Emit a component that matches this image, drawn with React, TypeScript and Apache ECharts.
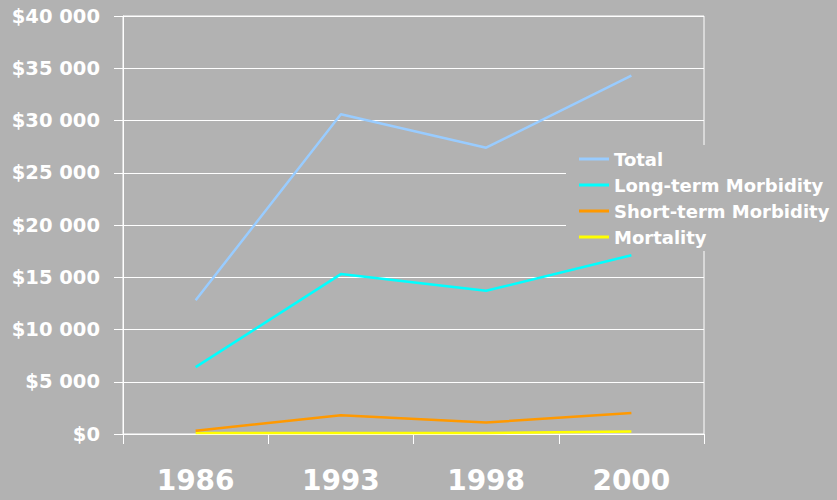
import React, { useEffect, useRef } from "react";
import * as echarts from "echarts";

const categories = ["1986", "1993", "1998", "2000"];
const totalValues = [12800, 30600, 27400, 34300];
const longTermValues = [6400, 15300, 13700, 17100];
const shortTermValues = [300, 1800, 1100, 2000];
const mortalityValues = [100, 100, 100, 250];
const seriesNames = ["Total", "Long-term Morbidity", "Short-term Morbidity", "Mortality"];
const seriesColors = ["#99CCFF", "#00FFFF", "#FF9900", "#FFFF00"];

const BG = "#B2B2B2";
const FONT = "DejaVu Sans";

function fmt(v: number): string {
  const s = String(Math.round(v));
  return "$" + s.replace(/\B(?=(\d{3})+(?!\d))/g, " ");
}

export default function App() {
  const ref = useRef<HTMLDivElement>(null);
  useEffect(() => {
    if (!ref.current) return;
    const chart = echarts.init(ref.current, undefined, { renderer: "svg" });
    const data = [totalValues, longTermValues, shortTermValues, mortalityValues];
    chart.setOption({
      animation: false,
      backgroundColor: BG,
      grid: {
        left: 123,
        right: 133,
        top: 16,
        bottom: 66,
        show: true,
        borderColor: "#FFFFFF",
        borderWidth: 1,
        backgroundColor: "transparent",
      },
      legend: {
        left: 566,
        top: 145,
        orient: "vertical",
        backgroundColor: BG,
        padding: [4, 8, 4, 13],
        itemGap: 6,
        itemWidth: 30,
        itemHeight: 3,
        icon: "rect",
        data: seriesNames,
        textStyle: {
          color: "#FFFFFF",
          fontFamily: FONT,
          fontWeight: "bold",
          fontSize: 18,
          lineHeight: 20,
        },
      },
      xAxis: {
        type: "category",
        data: categories,
        boundaryGap: true,
        axisLine: { show: true, lineStyle: { color: "#FFFFFF", width: 1 } },
        axisTick: { show: true, length: 10, lineStyle: { color: "#FFFFFF" } },
        axisLabel: {
          color: "#FFFFFF",
          fontFamily: FONT,
          fontWeight: "bold",
          fontSize: 28,
          margin: 32,
        },
        splitLine: { show: false },
      },
      yAxis: {
        type: "value",
        min: 0,
        max: 40000,
        interval: 5000,
        axisLine: { show: true, lineStyle: { color: "#FFFFFF", width: 1 } },
        axisTick: { show: true, length: 9, lineStyle: { color: "#FFFFFF" } },
        axisLabel: {
          color: "#FFFFFF",
          fontFamily: FONT,
          fontWeight: "bold",
          fontSize: 19.5,
          margin: 23,
          formatter: (v: number) => fmt(v),
        },
        splitLine: { show: true, lineStyle: { color: "#FFFFFF", width: 1 } },
      },
      series: seriesNames.map((name, i) => ({
        name,
        type: "line",
        data: data[i],
        symbol: "none",
        color: seriesColors[i],
        lineStyle: { color: seriesColors[i], width: 2.5 },
        z: 10 - i,
      })),
    });
    return () => chart.dispose();
  }, []);
  return (
    <div
      ref={ref}
      style={{ position: "absolute", left: 0, top: 0, width: 837, height: 500, background: BG }}
    />
  );
}
